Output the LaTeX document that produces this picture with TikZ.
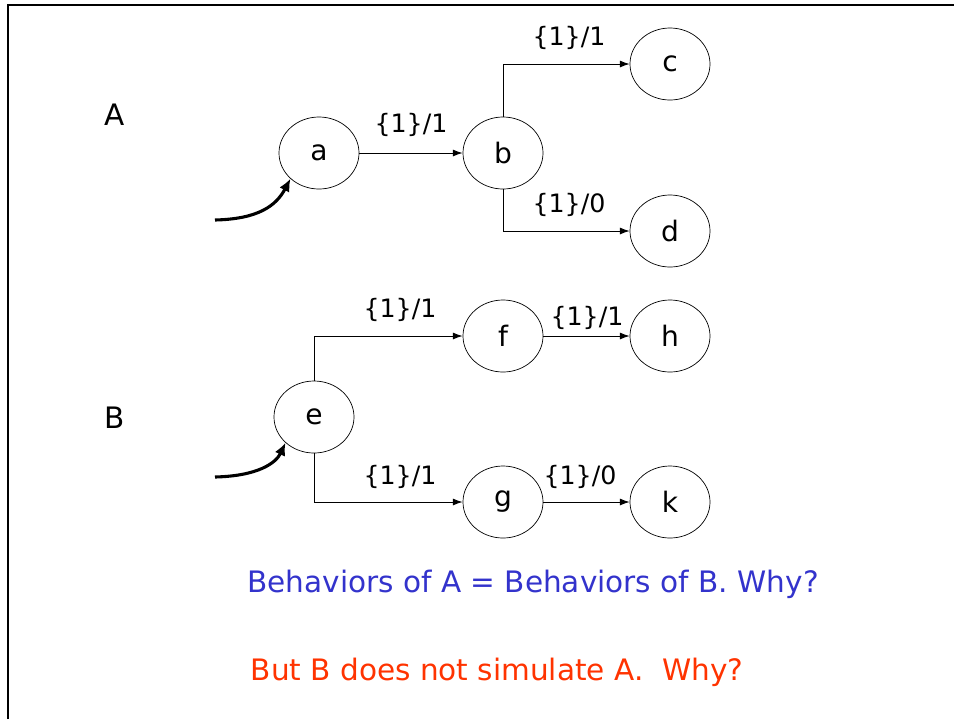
\documentclass[tikz,border=0pt]{standalone}
\usepackage{fontspec}
\setmainfont{DejaVu Sans}
\usepackage{xcolor}
\usetikzlibrary{shapes.geometric,arrows.meta,positioning,calc}

\definecolor{qblue}{RGB}{51,51,204}
\definecolor{qred}{RGB}{255,51,0}

\begin{document}
\begin{tikzpicture}[x=0.025cm,y=-0.025cm,
  state/.style={draw,ellipse,line width=0.5pt,minimum width=2cm,minimum height=1.8cm,inner sep=0pt,font=\fontsize{20}{23}\selectfont},
  trans/.style={-{Latex[length=7pt,width=5pt]},line width=0.6pt},
  lbl/.style={font=\fontsize{18}{21}\selectfont},
  start/.style={-{Latex[length=9pt,width=8pt]},line width=2.2pt},
  note/.style={font=\fontsize{21}{25}\selectfont}]
\useasboundingbox (0,0) rectangle (954,719);
% Frame
\draw[line width=2pt] (8,719) -- (8,5) -- (954,5);

% Machine A
\node[note] (nameA) at (115,115) {A};
\node[state] (a) at (319,153) {a};
\node[state] (b) at (503,153) {b};
\node[state] (c) at (670,64) {c};
\node[state] (d) at (670,231) {d};
\coordinate (startA) at (215,220);

\draw[trans] (a) -- (b);
\draw[trans] (b.north) |- (c.west);
\draw[trans] (b.south) |- (d.west);
\draw[start] (startA) .. controls (258,219) and (276,206) .. (a.south west);

\node[lbl] (ab) at (411,125) {\{1\}/1};
\node[lbl] (bc) at (569,38) {\{1\}/1};
\node[lbl] (bd) at (569,205) {\{1\}/0};

% Machine B
\node[note] (nameB) at (115,418) {B};
\node[state] (e) at (314,417) {e};
\node[state] (f) at (503,336) {f};
\node[state] (g) at (503,502) {g};
\node[state] (h) at (670,336) {h};
\node[state] (k) at (670,502) {k};
\coordinate (startB) at (215,477);

\draw[trans] (e.north) |- (f.west);
\draw[trans] (e.south) |- (g.west);
\draw[trans] (f) -- (h);
\draw[trans] (g) -- (k);
\draw[start] (startB) .. controls (258,476) and (276,463) .. (e.south west);

\node[lbl] (ef) at (400,310) {\{1\}/1};
\node[lbl] (eg) at (400,477) {\{1\}/1};
\node[lbl] (fh) at (587,318) {\{1\}/1};
\node[lbl] (gk) at (580,477) {\{1\}/0};

% Questions
\node[note,text=qblue] (same) at (533,584) {Behaviors of A = Behaviors of B. Why?};
\node[note,text=qred] (sim) at (497,672) {But B does not simulate A.\ \ Why?};
\end{tikzpicture}
\end{document}
